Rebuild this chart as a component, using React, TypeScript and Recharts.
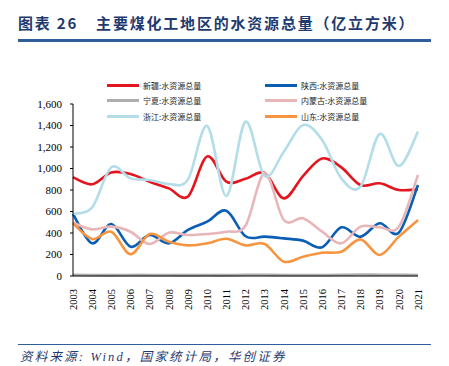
import React from 'react';
import { LineChart, Line, XAxis, YAxis } from 'recharts';

const years = [
  '2003', '2004', '2005', '2006', '2007', '2008', '2009', '2010', '2011', '2012',
  '2013', '2014', '2015', '2016', '2017', '2018', '2019', '2020', '2021',
];
const xinjiang = [918, 853, 963, 949, 877, 815, 740, 1113, 877, 904, 958, 722, 930, 1094, 1011, 846, 862, 800, 806];
const shaanxi = [577, 304, 484, 273, 381, 304, 428, 505, 607, 370, 366, 350, 329, 267, 453, 366, 490, 403, 846];
const ningxia = [11, 9, 8, 10, 10, 9, 8, 9, 8, 11, 11, 10, 9, 9, 11, 14, 12, 11, 9];
const neimenggu = [496, 434, 459, 412, 298, 403, 381, 391, 412, 468, 955, 521, 537, 412, 304, 459, 453, 459, 939];
const zhejiang = [577, 639, 1011, 908, 893, 856, 899, 1395, 744, 1435, 930, 1156, 1404, 1265, 908, 831, 1321, 1023, 1342];
const shandong = [490, 344, 412, 202, 391, 319, 285, 304, 347, 285, 298, 133, 180, 217, 226, 341, 195, 366, 521];
const yTicks = [0, 200, 400, 600, 800, 1000, 1200, 1400, 1600];
const boundaryTicks = Array.from({ length: years.length + 1 }, (_, i) => i);

const series = [
  { key: 'xinjiang', name: '新疆:水资源总量', color: '#E3161F', values: xinjiang },
  { key: 'shaanxi', name: '陕西:水资源总量', color: '#0A5EB4', values: shaanxi },
  { key: 'ningxia', name: '宁夏:水资源总量', color: '#ADADAD', values: ningxia },
  { key: 'neimenggu', name: '内蒙古:水资源总量', color: '#E8B6B8', values: neimenggu },
  { key: 'zhejiang', name: '浙江:水资源总量', color: '#B3DDE9', values: zhejiang },
  { key: 'shandong', name: '山东:水资源总量', color: '#F7943F', values: shandong },
];

const data = years.map((year, i) => {
  const row: Record<string, any> = { year };
  series.forEach((s) => {
    row[s.key] = s.values[i];
  });
  return row;
});

// excel-like smoothing (catmull-rom through every point)
const smoothCurve = (context: any) => {
  let pts: [number, number][] = [];
  return {
    areaStart() {},
    areaEnd() {},
    lineStart() {
      pts = [];
    },
    lineEnd() {
      if (!pts.length) return;
      context.moveTo(pts[0][0], pts[0][1]);
      for (let i = 0; i < pts.length - 1; i++) {
        const p0 = pts[Math.max(i - 1, 0)];
        const p1 = pts[i];
        const p2 = pts[i + 1];
        const p3 = pts[Math.min(i + 2, pts.length - 1)];
        context.bezierCurveTo(
          p1[0] + (p2[0] - p0[0]) / 6,
          p1[1] + (p2[1] - p0[1]) / 6,
          p2[0] - (p3[0] - p1[0]) / 6,
          p2[1] - (p3[1] - p1[1]) / 6,
          p2[0],
          p2[1]
        );
      }
    },
    point(x: number, y: number) {
      pts.push([x, y]);
    },
  };
};

const serif = '"Liberation Serif", "DejaVu Serif", serif';
const cjk = '"Noto Sans CJK SC", sans-serif';
const navy = '#1F3A6E';

const YearTick = (props: any) => {
  const { x, y, payload } = props;
  return (
    <text
      x={x}
      y={y}
      transform={`rotate(-90 ${x} ${y})`}
      textAnchor="end"
      dy="0.35em"
      fontSize={10.5}
      fontFamily={serif}
      fill="#000"
    >
      {payload.value}
    </text>
  );
};

const legendPos = [
  { left: 107, top: 85 },
  { left: 265, top: 85 },
  { left: 107, top: 100.5 },
  { left: 265, top: 100.5 },
  { left: 107, top: 116 },
  { left: 265, top: 116 },
];

export default function App() {
  return (
    <div style={{ position: 'absolute', left: 0, top: 0, width: 449, height: 366, background: '#fff', overflow: 'hidden' }}>
      <div
        style={{
          position: 'absolute',
          left: 18,
          top: 12,
          fontFamily: cjk,
          fontWeight: 700,
          fontSize: 15,
          color: navy,
          whiteSpace: 'nowrap',
          letterSpacing: 1.8,
        }}
      >
        图表 26<span style={{ display: 'inline-block', width: 18 }} />主要煤化工地区的水资源总量（亿立方米）
      </div>
      <div style={{ position: 'absolute', left: 18, top: 39, width: 413, height: 3, background: '#2E5E99' }} />

      {series.map((s, i) => (
        <div
          key={s.key}
          style={{
            position: 'absolute',
            left: legendPos[i].left,
            top: legendPos[i].top - 6,
            height: 12,
            display: 'flex',
            alignItems: 'center',
            whiteSpace: 'nowrap',
          }}
        >
          <div style={{ width: 32, height: 3, background: s.color }} />
          <span style={{ marginLeft: 4, fontFamily: cjk, fontSize: 8, color: '#222' }}>{s.name}</span>
        </div>
      ))}

      <div style={{ position: 'absolute', left: 0, top: 0 }}>
        <LineChart width={449} height={366} data={data} margin={{ top: 104, right: 31, bottom: 50, left: 33 }}>
          <XAxis
            xAxisId="marks"
            type="number"
            domain={[0, years.length]}
            allowDataOverflow
            ticks={boundaryTicks}
            tick={false}
            axisLine={false}
            tickLine={{ stroke: '#000' }}
            tickSize={4}
            height={0}
          />
          <XAxis
            dataKey="year"
            interval={0}
            axisLine={{ stroke: '#000' }}
            tickLine={false}
            tickMargin={7}
            tick={<YearTick />}
            height={40}
          />
          <YAxis
            domain={[0, 1600]}
            ticks={yTicks}
            width={40}
            tickSize={3}
            tickMargin={8}
            axisLine={{ stroke: '#000' }}
            tickLine={{ stroke: '#000' }}
            tickFormatter={(v: number) => v.toLocaleString('en-US')}
            tick={{ fontSize: 11, fontFamily: serif, fill: '#000' }}
          />
          {series.map((s) => (
            <Line
              key={s.key}
              dataKey={s.key}
              name={s.name}
              type={smoothCurve as any}
              stroke={s.color}
              strokeWidth={2.6}
              dot={false}
              activeDot={false}
              isAnimationActive={false}
            />
          ))}
        </LineChart>
      </div>

      <div style={{ position: 'absolute', left: 18, top: 343.5, width: 413, height: 1.5, background: '#2E5E99' }} />
      <div
        style={{
          position: 'absolute',
          left: 20,
          top: 350,
          lineHeight: '14px',
          fontFamily: `${serif}, ${cjk}`,
          fontStyle: 'italic',
          fontSize: 12.5,
          letterSpacing: 2.2,
          color: navy,
          whiteSpace: 'nowrap',
        }}
      >
        资料来源: Wind，国家统计局，华创证券
      </div>
    </div>
  );
}
